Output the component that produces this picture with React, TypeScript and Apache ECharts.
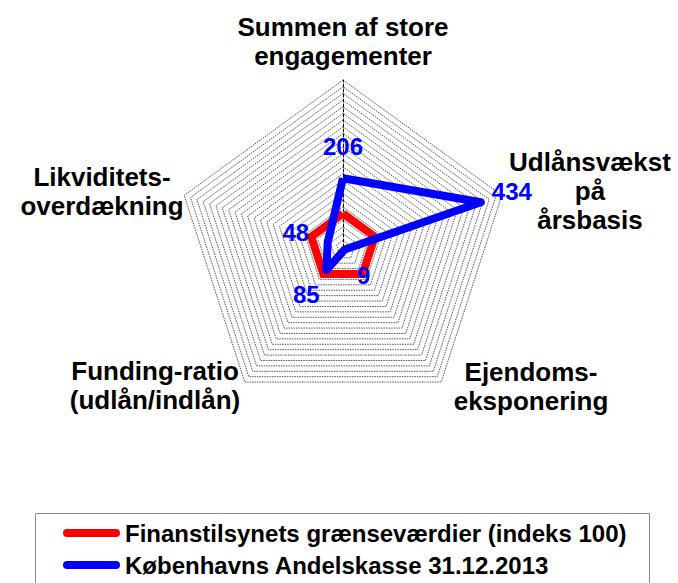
import { useEffect, useRef } from 'react';
import * as echarts from 'echarts';

// ---- data ----
const indicatorNames = [
  'Summen af store\nengagementer',
  'Likviditets-\noverdækning',
  'Funding-ratio\n(udlån/indlån)',
  'Ejendoms-\neksponering',
  'Udlånsvækst\npå\nårsbasis',
];
const axisMin = 0;
const axisMax = 500;
const axisSplits = 25;
const seriesNames = [
  'Finanstilsynets grænseværdier (indeks 100)',
  'Københavns Andelskasse 31.12.2013',
];
const finanstilsynetValues = [100, 100, 100, 100, 100];
const andelskasseValues = [206, 48, 85, 9, 434];

// ---- layout / style ----
const FONT = "'Liberation Sans', Arial, sans-serif";
const CENTER: [number, number] = [343, 247];
const RADIUS = 167;
const namePositions = [
  [343, 41],
  [102, 191],
  [155, 385],
  [531, 386],
  [590, 191],
];
const valueLabelOffsets = [
  [0, -32],
  [-32, -10],
  [-20, 25],
  [19, 26],
  [31, -11],
];

export default function App() {
  const ref = useRef<HTMLDivElement>(null);
  useEffect(() => {
    if (!ref.current) return;
    const chart = echarts.init(ref.current, undefined, { renderer: 'svg' });
    const option: any = {
      animation: false,
      backgroundColor: '#fff',
      textStyle: { fontFamily: FONT },
      radar: {
        center: CENTER,
        radius: RADIUS,
        startAngle: 90,
        shape: 'polygon',
        splitNumber: axisSplits,
        indicator: indicatorNames.map((n) => ({ name: n, min: axisMin, max: axisMax })),
        axisName: { show: false },
        axisLine: { show: false },
        axisTick: { show: false },
        axisLabel: { show: false },
        splitArea: { show: false },
        splitLine: { lineStyle: { color: '#1a1a1a', width: 0.75, type: [1.5, 1] } },
      },
      polar: { center: CENTER, radius: RADIUS },
      angleAxis: {
        type: 'category',
        data: indicatorNames,
        startAngle: 90,
        clockwise: false,
        boundaryGap: false,
        axisLine: { show: false },
        axisTick: { show: false },
        axisLabel: { show: false },
        splitLine: { show: false },
      },
      radiusAxis: {
        min: axisMin,
        max: axisMax,
        axisLine: { show: true, lineStyle: { color: '#000', width: 1, type: [3, 2] } },
        axisTick: { show: false },
        axisLabel: { show: false },
        splitLine: { show: false },
      },
      legend: {
        orient: 'vertical',
        left: 63,
        top: 521,
        padding: 0,
        itemGap: 8,
        itemWidth: 57,
        itemHeight: 8,
        icon: 'path://M4 0H53A4 4 0 0 1 53 8H4A4 4 0 0 1 4 0Z',
        data: seriesNames,
        textStyle: { fontSize: 24, fontWeight: 'bold', color: '#000', fontFamily: FONT, lineHeight: 24 },
      },
      graphic: [
        {
          type: 'rect',
          shape: { x: 35.5, y: 513.5, width: 614, height: 100 },
          style: { fill: 'none', stroke: '#888', lineWidth: 1 },
          silent: true,
        },
        ...indicatorNames.map((n, i) => ({
          type: 'text',
          x: namePositions[i][0],
          y: namePositions[i][1],
          silent: true,
          style: {
            text: n,
            align: 'center',
            verticalAlign: 'middle',
            fontSize: 26,
            fontWeight: 'bold',
            fontFamily: FONT,
            lineHeight: 29,
            fill: '#000',
          },
        })),
      ],
      series: [
        {
          type: 'radar',
          name: seriesNames[0],
          symbol: 'none',
          z: 3,
          lineStyle: { color: '#ff0000', width: 8, join: 'miter' },
          itemStyle: { color: '#ff0000' },
          data: [{ name: seriesNames[0], value: finanstilsynetValues }],
        },
        {
          type: 'radar',
          name: seriesNames[1],
          symbol: 'none',
          z: 4,
          lineStyle: { color: '#0000ff', width: 8, join: 'round' },
          itemStyle: { color: '#0000ff' },
          data: [{ name: seriesNames[1], value: andelskasseValues }],
        },
        {
          type: 'scatter',
          coordinateSystem: 'polar',
          symbolSize: 1,
          z: 6,
          silent: true,
          itemStyle: { color: 'rgba(0,0,0,0)', opacity: 1 },
          label: {
            show: true,
            position: 'inside',
            color: '#0000ff',
            textBorderWidth: 0,
            fontSize: 24,
            fontWeight: 'bold',
            fontFamily: FONT,
            formatter: (p: any) => String(p.value[0]),
          },
          data: andelskasseValues.map((v, i) => ({
            value: [v, i],
            label: { offset: valueLabelOffsets[i] },
          })),
        },
      ],
    };
    chart.setOption(option);
    return () => chart.dispose();
  }, []);
  return (
    <div
      ref={ref}
      style={{ position: 'fixed', left: 0, top: 0, width: 678, height: 583 }}
    />
  );
}
